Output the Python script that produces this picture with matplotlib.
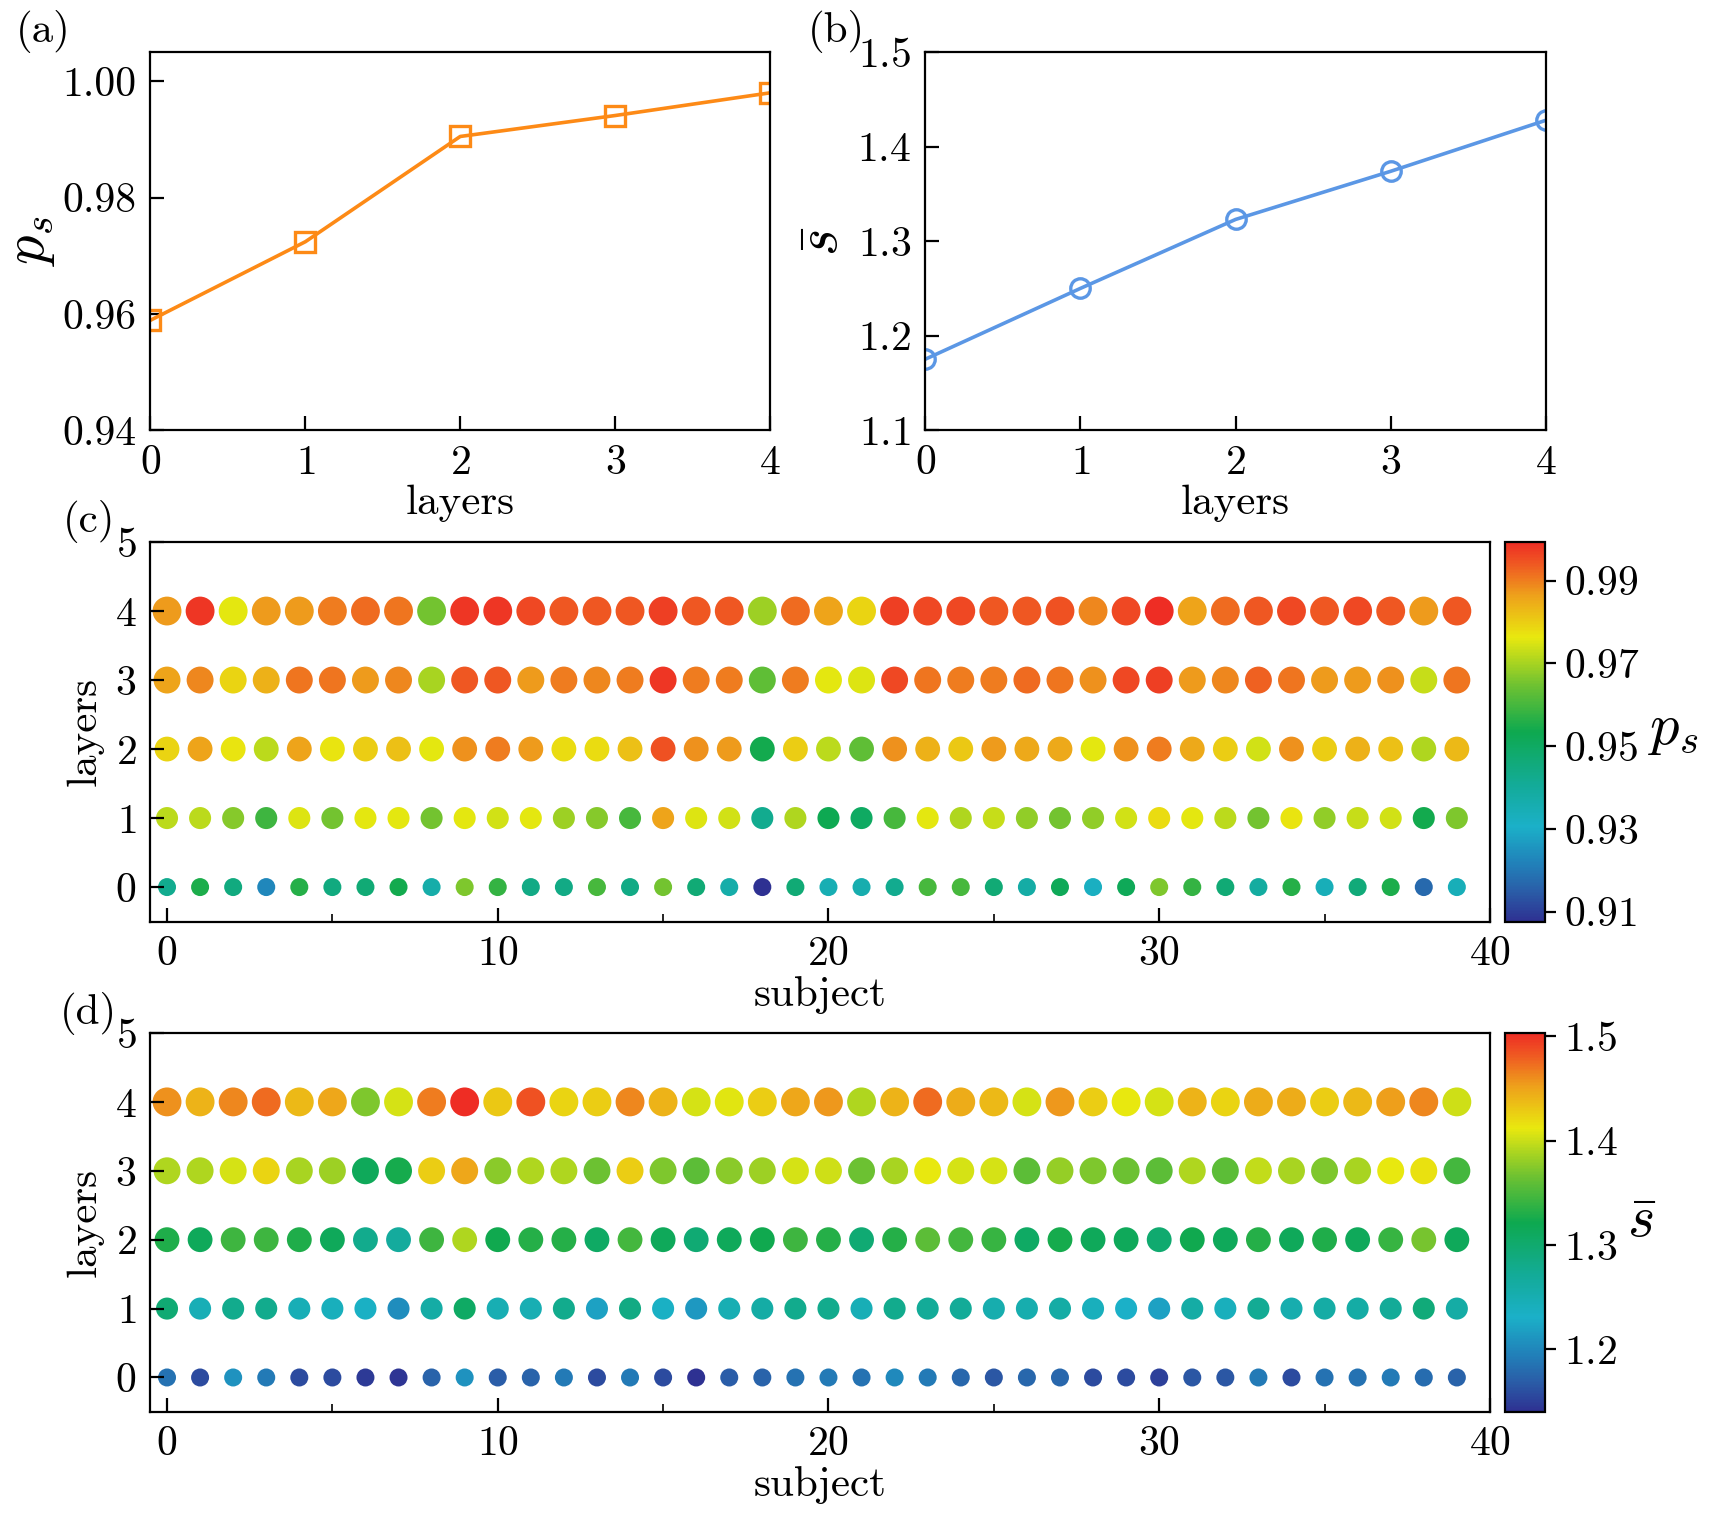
import matplotlib
matplotlib.use('Agg')
import matplotlib.pyplot as plt
import numpy as np
from matplotlib.colors import LinearSegmentedColormap, Normalize
from matplotlib.ticker import MultipleLocator

plt.rcParams['font.family'] = 'serif'
plt.rcParams['font.serif'] = ['cmr10']
plt.rcParams['mathtext.fontset'] = 'cm'
plt.rcParams['axes.formatter.use_mathtext'] = True

# ---- data ----
layers = [0, 1, 2, 3, 4]
ps_mean = [0.9589, 0.9724, 0.9905, 0.9941, 0.9980]
s_mean = [1.175, 1.250, 1.323, 1.374, 1.428]

subjects = np.arange(40)

# p_s per subject, one list per layer (0..4)
ps_layer0 = [0.942, 0.955, 0.945, 0.923, 0.956, 0.945, 0.947, 0.954, 0.937, 0.966,
             0.958, 0.944, 0.944, 0.960, 0.944, 0.965, 0.947, 0.937, 0.9076, 0.947,
             0.935, 0.936, 0.942, 0.960, 0.960, 0.947, 0.938, 0.952, 0.932, 0.952,
             0.966, 0.958, 0.947, 0.939, 0.956, 0.934, 0.946, 0.955, 0.917, 0.934]
ps_layer1 = [0.972, 0.972, 0.967, 0.959, 0.975, 0.965, 0.976, 0.976, 0.965, 0.976,
             0.974, 0.976, 0.969, 0.967, 0.960, 0.986, 0.975, 0.974, 0.942, 0.971,
             0.953, 0.950, 0.960, 0.976, 0.971, 0.973, 0.968, 0.965, 0.968, 0.974,
             0.978, 0.976, 0.972, 0.965, 0.977, 0.968, 0.973, 0.974, 0.954, 0.966]
ps_layer2 = [0.979, 0.986, 0.977, 0.972, 0.986, 0.977, 0.980, 0.982, 0.976, 0.988,
             0.990, 0.987, 0.978, 0.978, 0.982, 0.995, 0.988, 0.987, 0.954, 0.980,
             0.972, 0.963, 0.988, 0.984, 0.981, 0.987, 0.985, 0.985, 0.976, 0.988,
             0.990, 0.985, 0.980, 0.974, 0.988, 0.980, 0.984, 0.982, 0.971, 0.983]
ps_layer3 = [0.986, 0.989, 0.979, 0.984, 0.991, 0.991, 0.987, 0.989, 0.970, 0.994,
             0.994, 0.987, 0.990, 0.989, 0.990, 0.998, 0.990, 0.990, 0.963, 0.990,
             0.976, 0.975, 0.996, 0.991, 0.990, 0.990, 0.992, 0.991, 0.988, 0.996,
             0.997, 0.987, 0.989, 0.993, 0.991, 0.987, 0.987, 0.988, 0.973, 0.991]
ps_layer4 = [0.987, 0.998, 0.976, 0.987, 0.987, 0.990, 0.992, 0.991, 0.965, 0.998,
             0.998, 0.996, 0.994, 0.994, 0.994, 0.997, 0.994, 0.994, 0.969, 0.992,
             0.986, 0.979, 0.997, 0.996, 0.996, 0.994, 0.994, 0.995, 0.989, 0.996,
             0.9993, 0.986, 0.992, 0.994, 0.996, 0.994, 0.996, 0.994, 0.987, 0.994]

# s-bar per subject, one list per layer (0..4)
s_layer0 = [1.184, 1.158, 1.209, 1.191, 1.158, 1.158, 1.147, 1.144, 1.173, 1.209,
            1.169, 1.173, 1.191, 1.158, 1.191, 1.158, 1.140, 1.169, 1.173, 1.184,
            1.191, 1.184, 1.202, 1.191, 1.176, 1.165, 1.176, 1.176, 1.158, 1.158,
            1.151, 1.165, 1.165, 1.191, 1.158, 1.184, 1.184, 1.191, 1.180, 1.173]
s_layer1 = [1.296, 1.245, 1.278, 1.278, 1.245, 1.242, 1.234, 1.205, 1.260, 1.307,
            1.249, 1.249, 1.278, 1.220, 1.285, 1.234, 1.213, 1.249, 1.260, 1.278,
            1.278, 1.245, 1.278, 1.271, 1.271, 1.253, 1.253, 1.260, 1.242, 1.231,
            1.220, 1.260, 1.242, 1.274, 1.253, 1.260, 1.260, 1.271, 1.292, 1.260]
s_layer2 = [1.329, 1.314, 1.343, 1.343, 1.329, 1.314, 1.278, 1.267, 1.343, 1.390,
            1.322, 1.332, 1.332, 1.307, 1.347, 1.314, 1.296, 1.314, 1.322, 1.343,
            1.332, 1.296, 1.332, 1.358, 1.347, 1.340, 1.307, 1.325, 1.314, 1.314,
            1.300, 1.322, 1.314, 1.332, 1.314, 1.329, 1.314, 1.340, 1.369, 1.314]
s_layer3 = [1.390, 1.390, 1.405, 1.423, 1.387, 1.383, 1.314, 1.325, 1.427, 1.449,
            1.376, 1.390, 1.390, 1.365, 1.427, 1.372, 1.358, 1.376, 1.383, 1.405,
            1.401, 1.365, 1.387, 1.412, 1.405, 1.405, 1.358, 1.380, 1.372, 1.365,
            1.358, 1.390, 1.358, 1.398, 1.387, 1.372, 1.387, 1.412, 1.416, 1.347]
s_layer4 = [1.459, 1.441, 1.463, 1.474, 1.438, 1.449, 1.372, 1.405, 1.467, 1.503,
            1.430, 1.485, 1.423, 1.427, 1.463, 1.441, 1.405, 1.409, 1.427, 1.449,
            1.456, 1.390, 1.441, 1.474, 1.445, 1.438, 1.405, 1.456, 1.427, 1.412,
            1.405, 1.441, 1.423, 1.445, 1.445, 1.427, 1.438, 1.452, 1.463, 1.401]

ps_grid = [ps_layer0, ps_layer1, ps_layer2, ps_layer3, ps_layer4]
s_grid = [s_layer0, s_layer1, s_layer2, s_layer3, s_layer4]

# ---- style ----
cmap = LinearSegmentedColormap.from_list('bgyr', [
    (0.00, '#2e3192'), (0.08, '#2a5ea8'), (0.15, '#2180b9'), (0.25, '#1bb0c8'),
    (0.36, '#13ab98'), (0.50, '#0ea94f'), (0.62, '#6cc132'), (0.75, '#e9e80f'),
    (0.86, '#eea11b'), (0.94, '#ef5b22'), (1.00, '#ee2d24')])
dot_sizes = [42, 63, 80, 94, 108]
tick_fs = 15
lab_fs = 15.5
math_fs = 21

fig = plt.figure(figsize=(8.55, 7.6), dpi=200)

ax_a = fig.add_axes([0.088, 0.717, 0.3623, 0.2487])
ax_b = fig.add_axes([0.541, 0.717, 0.3632, 0.2487])
ax_c = fig.add_axes([0.088, 0.3937, 0.7833, 0.2497])
cax_c = fig.add_axes([0.880, 0.3937, 0.0234, 0.2497])
ax_d = fig.add_axes([0.088, 0.0711, 0.7833, 0.2493])
cax_d = fig.add_axes([0.880, 0.0711, 0.0234, 0.2493])

# (a)
ax_a.plot(layers, ps_mean, color='#fd8a16', lw=1.3, marker='s', ms=7,
          mfc='none', mew=1.2)
ax_a.set_xlim(0, 4)
ax_a.set_ylim(0.94, 1.005)
ax_a.set_yticks([0.94, 0.96, 0.98, 1.00])
ax_a.set_yticklabels(['0.94', '0.96', '0.98', '1.00'])
ax_a.set_xticks(layers)
ax_a.set_xlabel('layers', fontsize=lab_fs, labelpad=1)
ax_a.set_ylabel(r'$p_s$', fontsize=math_fs, labelpad=2)

# (b)
ax_b.plot(layers, s_mean, color='#5b97e5', lw=1.3, marker='o', ms=7,
          mfc='none', mew=1.2)
ax_b.set_xlim(0, 4)
ax_b.set_ylim(1.1, 1.5)
ax_b.set_yticks([1.1, 1.2, 1.3, 1.4, 1.5])
ax_b.set_xticks(layers)
ax_b.set_xlabel('layers', fontsize=lab_fs, labelpad=1)
ax_b.set_ylabel(r'$\bar{s}$', fontsize=math_fs, labelpad=3)

for ax in (ax_a, ax_b):
    ax.tick_params(direction='in', length=5, labelsize=tick_fs, pad=5)


def dot_panel(ax, cax, grid, cticks, clabel):
    norm = Normalize(vmin=min(min(r) for r in grid), vmax=max(max(r) for r in grid))
    for lay, row in zip(layers, grid):
        sc = ax.scatter(subjects, np.full(len(row), lay), c=row, cmap=cmap,
                        norm=norm, s=dot_sizes[lay], edgecolors='none')
    ax.set_xlim(-0.5, 40)
    ax.set_ylim(-0.5, 5)
    ax.set_yticks([0, 1, 2, 3, 4, 5])
    ax.xaxis.set_major_locator(MultipleLocator(10))
    ax.xaxis.set_minor_locator(MultipleLocator(5))
    ax.tick_params(which='major', direction='in', length=5, labelsize=tick_fs, pad=5)
    ax.tick_params(which='minor', direction='in', length=3)
    ax.set_xlabel('subject', fontsize=lab_fs, labelpad=1)
    ax.set_ylabel('layers', fontsize=lab_fs, labelpad=4)
    cb = fig.colorbar(sc, cax=cax, ticks=cticks)
    cb.ax.tick_params(labelsize=tick_fs, length=4, pad=3)
    cb.set_label(clabel, fontsize=math_fs, rotation=0, labelpad=3,
                 va='center', ha='left')
    return cb


dot_panel(ax_c, cax_c, ps_grid, [0.91, 0.93, 0.95, 0.97, 0.99], r'$p_s$')
cb_d = dot_panel(ax_d, cax_d, s_grid, [1.2, 1.3, 1.4, 1.5], r'$\bar{s}$')

fig.text(0.025, 0.979, '(a)', fontsize=lab_fs, va='center', ha='center')
fig.text(0.489, 0.979, '(b)', fontsize=lab_fs, va='center', ha='center')
fig.text(0.052, 0.657, '(c)', fontsize=lab_fs, va='center', ha='center')
fig.text(0.052, 0.333, '(d)', fontsize=lab_fs, va='center', ha='center')

fig.savefig('out.png', dpi=200)
